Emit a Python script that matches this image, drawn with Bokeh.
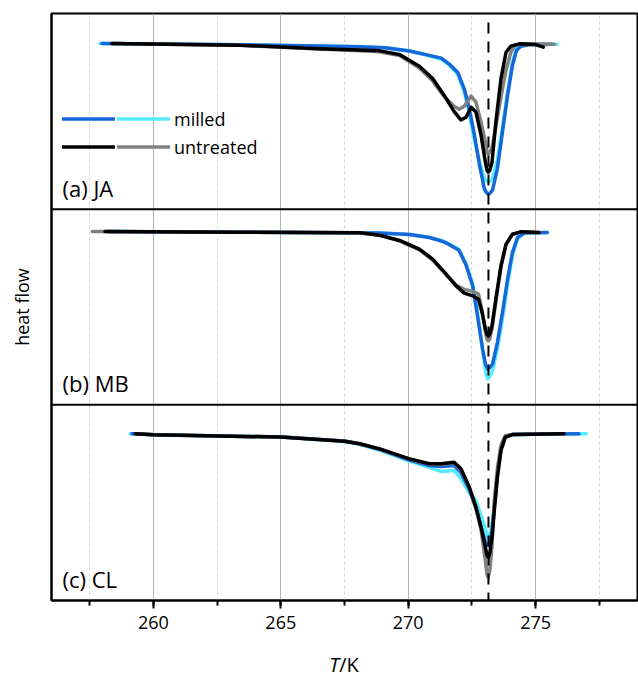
from bokeh.plotting import figure
from bokeh.layouts import column
from bokeh.models import SingleIntervalTicker, FixedTicker, Span, Label, Legend, LegendItem, Div
from bokeh.embed import file_html
from bokeh.resources import INLINE

FONT = "Open Sans"
C_MILLED1 = "#1668d8"
C_MILLED2 = "#55ecff"
C_UNTR1 = "#000000"
C_UNTR2 = "#808080"

MELT_T = 273.15  # K

# ---- panel (a) JA ----
JA_milled1_T = [257.98, 263.4, 266.5, 268.1, 269.1, 270.05, 270.83, 271.3, 271.6, 271.94, 272.2, 272.4, 272.6, 272.8, 272.99, 273.07, 273.14, 273.22, 273.31, 273.5, 273.7, 273.9, 274.09, 274.25, 274.42, 274.75, 275.6]
JA_milled1_hf = [0.847, 0.840, 0.834, 0.830, 0.825, 0.808, 0.786, 0.772, 0.743, 0.700, 0.615, 0.513, 0.378, 0.225, 0.104, 0.085, 0.077, 0.083, 0.097, 0.206, 0.394, 0.581, 0.734, 0.811, 0.833, 0.840, 0.843]
JA_milled2_T = [257.9, 263.4, 266.5, 268.1, 269.1, 270.05, 270.83, 271.3, 271.6, 271.94, 272.2, 272.4, 272.6, 272.8, 272.99, 273.07, 273.14, 273.22, 273.31, 273.5, 273.7, 273.9, 274.09, 274.25, 274.42, 274.75, 275.84]
JA_milled2_hf = [0.847, 0.840, 0.834, 0.830, 0.825, 0.808, 0.784, 0.766, 0.738, 0.690, 0.598, 0.486, 0.353, 0.240, 0.158, 0.144, 0.138, 0.143, 0.158, 0.250, 0.419, 0.598, 0.752, 0.818, 0.838, 0.842, 0.843]
JA_untr1_T = [258.37, 263.4, 266.5, 268.1, 268.88, 269.66, 270.44, 270.96, 271.42, 271.8, 272.07, 272.27, 272.47, 272.66, 272.86, 273.03, 273.09, 273.14, 273.2, 273.29, 273.44, 273.64, 273.84, 274.03, 274.36, 275.0, 275.3]
JA_untr1_hf = [0.847, 0.838, 0.820, 0.814, 0.809, 0.790, 0.730, 0.668, 0.580, 0.500, 0.456, 0.470, 0.521, 0.496, 0.378, 0.240, 0.200, 0.189, 0.198, 0.240, 0.445, 0.666, 0.802, 0.833, 0.845, 0.841, 0.828]
JA_untr2_T = [258.4, 263.4, 266.5, 268.1, 268.88, 269.66, 270.44, 270.96, 271.42, 271.8, 272.0, 272.2, 272.47, 272.66, 272.86, 273.03, 273.09, 273.14, 273.2, 273.29, 273.44, 273.64, 273.84, 274.03, 274.2, 274.5, 275.73]
JA_untr2_hf = [0.847, 0.838, 0.818, 0.810, 0.804, 0.785, 0.722, 0.655, 0.575, 0.526, 0.511, 0.526, 0.578, 0.547, 0.445, 0.343, 0.295, 0.281, 0.290, 0.317, 0.419, 0.572, 0.711, 0.802, 0.838, 0.845, 0.843]

# ---- panel (b) MB ----
MB_milled1_T = [258.2, 263.4, 268.88, 270.05, 270.83, 271.36, 271.6, 271.99, 272.27, 272.53, 272.72, 272.92, 273.04, 273.12, 273.2, 273.31, 273.5, 273.7, 273.9, 274.09, 274.29, 274.55, 275.46]
MB_milled1_hf = [0.886, 0.882, 0.878, 0.870, 0.855, 0.835, 0.820, 0.790, 0.715, 0.608, 0.455, 0.285, 0.205, 0.184, 0.190, 0.208, 0.318, 0.472, 0.642, 0.778, 0.855, 0.878, 0.881]
MB_milled2_T = [258.2, 263.4, 268.88, 270.05, 270.83, 271.36, 271.6, 271.99, 272.27, 272.53, 272.72, 272.92, 273.04, 273.12, 273.2, 273.31, 273.5, 273.7, 273.9, 274.09, 274.29, 274.55, 275.46]
MB_milled2_hf = [0.886, 0.882, 0.878, 0.870, 0.856, 0.837, 0.823, 0.795, 0.722, 0.618, 0.470, 0.276, 0.165, 0.133, 0.145, 0.174, 0.286, 0.440, 0.613, 0.762, 0.848, 0.878, 0.881]
MB_untr1_T = [258.1, 263.4, 268.1, 268.88, 269.66, 270.44, 270.96, 271.49, 271.88, 272.2, 272.53, 272.76, 272.9, 273.03, 273.09, 273.14, 273.2, 273.29, 273.44, 273.64, 273.84, 274.09, 274.42, 275.14]
MB_untr1_hf = [0.886, 0.882, 0.880, 0.867, 0.840, 0.796, 0.745, 0.668, 0.608, 0.571, 0.557, 0.540, 0.472, 0.387, 0.360, 0.353, 0.362, 0.404, 0.540, 0.710, 0.821, 0.872, 0.884, 0.881]
MB_untr2_T = [257.6, 263.4, 268.1, 268.88, 269.66, 270.44, 270.96, 271.49, 271.88, 272.2, 272.53, 272.76, 272.9, 273.03, 273.09, 273.14, 273.2, 273.29, 273.44, 273.64, 273.84, 274.09, 274.42, 275.14]
MB_untr2_hf = [0.886, 0.882, 0.880, 0.866, 0.838, 0.792, 0.740, 0.664, 0.612, 0.590, 0.580, 0.566, 0.480, 0.375, 0.335, 0.327, 0.337, 0.390, 0.530, 0.705, 0.818, 0.871, 0.884, 0.881]

# ---- panel (c) CL ----
CL_milled1_T = [259.16, 260, 265, 267.5, 268.09, 268.88, 270.05, 270.83, 271.29, 271.8, 272.07, 272.4, 272.66, 272.86, 273.03, 273.09, 273.14, 273.2, 273.29, 273.38, 273.5, 273.64, 273.81, 274.09, 276.7]
CL_milled1_hf = [0.852, 0.847, 0.836, 0.815, 0.801, 0.772, 0.718, 0.690, 0.685, 0.690, 0.654, 0.566, 0.470, 0.375, 0.300, 0.285, 0.281, 0.295, 0.358, 0.480, 0.640, 0.770, 0.835, 0.848, 0.852]
CL_milled2_T = [259.1, 260, 265, 267.5, 268.09, 268.88, 270.05, 270.83, 271.29, 271.8, 272.07, 272.4, 272.66, 272.86, 273.03, 273.09, 273.14, 273.2, 273.29, 273.38, 273.5, 273.64, 273.81, 274.09, 276.99]
CL_milled2_hf = [0.852, 0.847, 0.835, 0.813, 0.798, 0.768, 0.712, 0.680, 0.659, 0.664, 0.624, 0.550, 0.511, 0.434, 0.368, 0.335, 0.322, 0.335, 0.384, 0.490, 0.645, 0.772, 0.836, 0.848, 0.852]
CL_untr1_T = [259.29, 260, 265, 267.5, 268.09, 268.88, 270.05, 270.83, 271.29, 271.8, 272.07, 272.4, 272.66, 272.86, 273.03, 273.09, 273.14, 273.2, 273.29, 273.38, 273.5, 273.64, 273.81, 274.09, 276.12]
CL_untr1_hf = [0.852, 0.847, 0.835, 0.814, 0.801, 0.775, 0.724, 0.699, 0.699, 0.707, 0.673, 0.579, 0.477, 0.375, 0.272, 0.232, 0.221, 0.240, 0.324, 0.460, 0.630, 0.767, 0.835, 0.848, 0.852]
CL_untr2_T = [259.3, 260, 265, 267.5, 268.09, 268.88, 270.05, 270.83, 271.29, 271.8, 272.07, 272.4, 272.66, 272.86, 273.03, 273.09, 273.14, 273.2, 273.29, 273.38, 273.5, 273.64, 273.81, 274.09, 276.1]
CL_untr2_hf = [0.852, 0.847, 0.835, 0.814, 0.801, 0.775, 0.723, 0.697, 0.696, 0.704, 0.670, 0.575, 0.470, 0.360, 0.204, 0.135, 0.118, 0.150, 0.281, 0.511, 0.675, 0.793, 0.842, 0.849, 0.852]

panel_names = ["(a) JA", "(b) MB", "(c) CL"]
legend_labels = ["milled", "untreated"]
x_title_var = "T"
x_title_unit = "/K"
y_title = "heat flow"

panels = [
    (JA_milled2_T, JA_milled2_hf, JA_milled1_T, JA_milled1_hf, JA_untr2_T, JA_untr2_hf, JA_untr1_T, JA_untr1_hf),
    (MB_milled2_T, MB_milled2_hf, MB_milled1_T, MB_milled1_hf, MB_untr2_T, MB_untr2_hf, MB_untr1_T, MB_untr1_hf),
    (CL_milled2_T, CL_milled2_hf, CL_milled1_T, CL_milled1_hf, CL_untr2_T, CL_untr2_hf, CL_untr1_T, CL_untr1_hf),
]

N = len(panels)
p = figure(width=638, height=653, x_range=(256, 279), y_range=(0, N),
           output_backend="svg", toolbar_location=None,
           min_border_left=51, min_border_right=1, min_border_top=13, min_border_bottom=53)
p.background_fill_color = "white"
p.border_fill_color = "white"
p.outline_line_color = "black"
p.outline_line_width = 2

ticker = SingleIntervalTicker(interval=5, num_minor_ticks=2)
xa = p.xaxis[0]
xa.ticker = ticker
xa.axis_line_width = 2
xa.major_tick_out = 8
xa.major_tick_in = 0
xa.major_tick_line_width = 2
xa.minor_tick_out = 5
xa.minor_tick_in = 0
xa.minor_tick_line_width = 2
xa.major_label_text_font = FONT
xa.major_label_text_font_size = "18px"
xa.major_label_text_color = "black"
xa.major_label_standoff = 7

p.xgrid.ticker = ticker
p.xgrid.grid_line_color = "#b4b4b4"
p.xgrid.grid_line_width = 1
p.xgrid.minor_grid_line_color = "#d4d4d4"
p.xgrid.minor_grid_line_dash = "3 3"
p.ygrid.visible = False

ya = p.yaxis[0]
ya.ticker = FixedTicker(ticks=[])
ya.major_tick_out = 0
ya.major_tick_in = 0
ya.minor_tick_out = 0
ya.minor_tick_in = 0
ya.major_label_standoff = 0
ya.axis_line_width = 2
ya.axis_label = y_title
ya.axis_label_text_font = FONT
ya.axis_label_text_font_size = "18px"
ya.axis_label_text_font_style = "normal"
ya.axis_label_text_color = "black"
ya.axis_label_standoff = 18

colors = [C_MILLED2, C_MILLED1, C_UNTR2, C_UNTR1]
first = {}
for i, data in enumerate(panels):
    base = N - 1 - i
    for k in range(4):
        T = data[2 * k]
        hf = data[2 * k + 1]
        r = p.line(T, [v + base for v in hf], line_color=colors[k], line_width=3.5,
                   line_join="round", line_cap="round")
        if i == 0:
            first[k] = r
    p.add_layout(Label(x=11, x_units="screen", y=base + 0.11, text=panel_names[i],
                       text_font=FONT, text_font_size="22px", text_color="black",
                       text_baseline="alphabetic"))

for b in range(1, N):
    p.add_layout(Span(location=b, dimension="width", line_color="black", line_width=2))

p.segment(x0=[MELT_T], y0=[N - 0.046], x1=[MELT_T], y1=[0], line_color="black",
          line_width=2, line_dash="11 8")

common = dict(glyph_width=53, glyph_height=25, label_height=25, label_standoff=4,
              spacing=3, padding=0, margin=0, border_line_color=None,
              background_fill_alpha=0, label_text_font=FONT,
              label_text_font_size="18px", label_text_color="black")
leg1 = Legend(items=[LegendItem(label=" ", renderers=[first[1]]),
                     LegendItem(label=" ", renderers=[first[3]])],
              location=(11, 441), **common)
leg2 = Legend(items=[LegendItem(label=legend_labels[0], renderers=[first[0]]),
                     LegendItem(label=legend_labels[1], renderers=[first[2]])],
              location=(66, 441), **common)
p.add_layout(leg1)
p.add_layout(leg2)

xlabel = Div(text=f"<i>{x_title_var}</i>{x_title_unit}", width=586, height=24,
             margin=(0, 0, 0, 51),
             styles={"text-align": "center", "font-family": FONT, "font-size": "20px",
                     "color": "black", "line-height": "24px", "width": "586px"})

layout = column(p, xlabel, spacing=0)
open("out.html", "w").write(file_html(layout, INLINE))
